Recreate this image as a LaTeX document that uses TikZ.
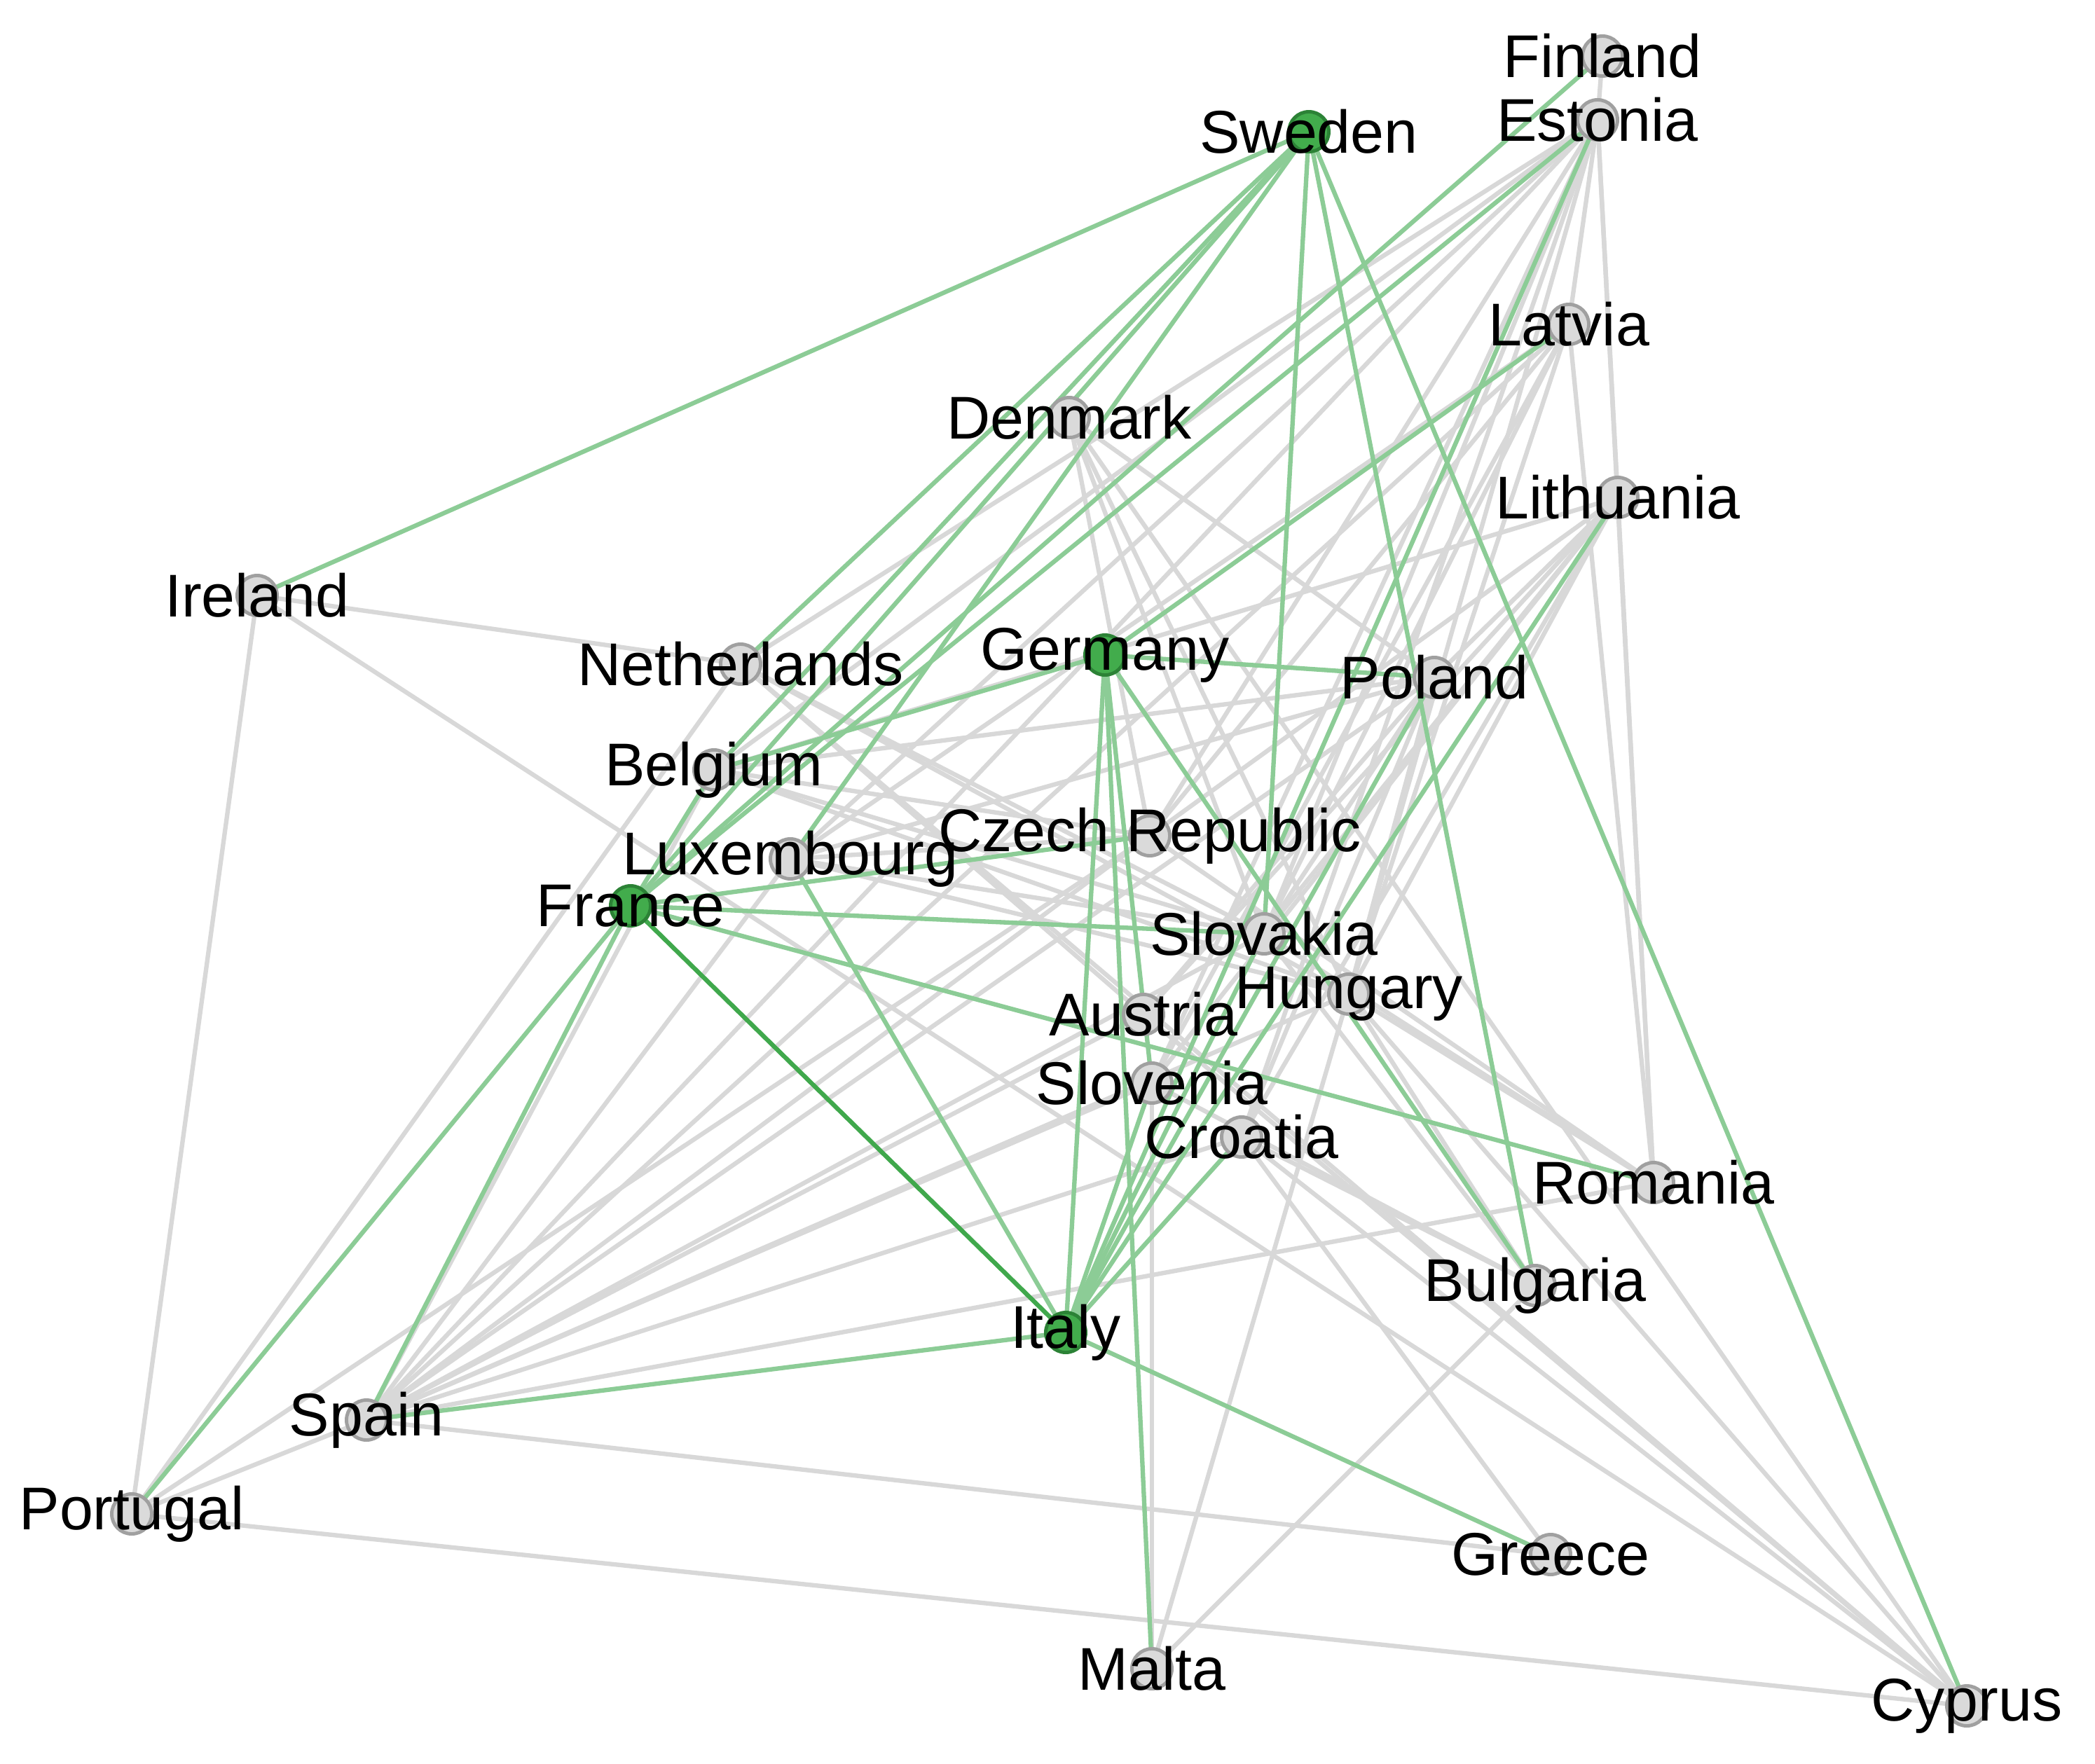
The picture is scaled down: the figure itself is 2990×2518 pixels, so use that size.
\documentclass[tikz,border=0pt]{standalone}
\usepackage{fontspec}
\setmainfont{Liberation Sans}
\definecolor{edgegray}{RGB}{216,216,216}
\definecolor{edgegreen}{RGB}{140,204,150}
\definecolor{edgedkgreen}{RGB}{64,168,76}
\definecolor{nodegray}{RGB}{218,218,218}
\definecolor{nodegraybd}{RGB}{160,160,160}
\definecolor{nodegreen}{RGB}{66,172,76}
\definecolor{nodegreenbd}{RGB}{44,130,54}
\begin{document}
\begin{tikzpicture}[x=0.01cm,y=-0.01cm,
  gedge/.style={draw=edgegray,line width=1.8pt},
  gredge/.style={draw=edgegreen,line width=1.8pt},
  dgredge/.style={draw=edgedkgreen,line width=1.8pt},
  nd/.style={circle,minimum size=0.57cm,inner sep=0pt,fill=nodegray,draw=nodegraybd,line width=1.4pt},
  gnd/.style={circle,minimum size=0.57cm,inner sep=0pt,fill=nodegreen,draw=nodegreenbd,line width=1.4pt},
  lbl/.style={font=\fontsize{24.5pt}{29pt}\selectfont,inner sep=0pt,text=black}]
\useasboundingbox (0,0) rectangle (2990,2518);
\fill[white] (0,0) rectangle (2990,2518);
% node coordinates
\coordinate (fi) at (2287,80);
\coordinate (es) at (2280,171);
\coordinate (se) at (1868,188);
\coordinate (la) at (2239,463);
\coordinate (de) at (1526,596);
\coordinate (li) at (2309,710);
\coordinate (ir) at (367,850);
\coordinate (ne) at (1057,948);
\coordinate (ge) at (1577,935);
\coordinate (po) at (2047,967);
\coordinate (be) at (1019,1099);
\coordinate (cz) at (1641,1193);
\coordinate (lu) at (1128,1226);
\coordinate (fr) at (900,1293);
\coordinate (sk) at (1804,1333);
\coordinate (hu) at (1925,1419);
\coordinate (au) at (1632,1448);
\coordinate (sn) at (1644,1546);
\coordinate (cr) at (1772,1623);
\coordinate (ro) at (2360,1688);
\coordinate (bu) at (2191,1835);
\coordinate (it) at (1521,1902);
\coordinate (sp) at (523,2027);
\coordinate (pt) at (188,2161);
\coordinate (gr) at (2213,2219);
\coordinate (ma) at (1644,2382);
\coordinate (cy) at (2807,2435);
% gray edges
\foreach \a/\b in {fi/es,es/la,es/li,es/ro,la/ro,li/ro,ir/ne,ir/pt,ir/cy,pt/sp,pt/ne,pt/cz,pt/cy,
  sp/gr,sp/ro,de/cy,de/po,de/cz,de/sk,de/hu,sp/cz,sp/au,sp/sn,sp/hu,sp/sk,sp/cr,sp/po,sp/be,sp/lu,
  ne/sk,ne/hu,ne/au,ne/cy,be/hu,be/sk,be/po,lu/sk,lu/hu,lu/po,lu/cz,be/cz,
  es/be,es/lu,es/ne,es/cz,es/sk,es/hu,es/sn,es/cr,es/sp,
  la/cz,la/lu,la/sk,la/hu,la/sn,la/sp,li/cz,li/be,li/sk,li/hu,li/au,li/cr,li/sn,li/po,
  po/sk,po/hu,po/au,po/cr,cz/ro,sk/ro,hu/ro,cr/cy,au/cy,cr/gr,cr/bu,hu/bu,sk/bu,sn/bu,
  ma/bu,ma/hu,ma/sn,hu/cy}
  {\draw[gedge] (\a) -- (\b);}
% green edges
\foreach \a/\b in {se/ir,se/ne,se/be,se/fr,se/lu,se/sk,se/bu,se/cy,
  ge/po,ge/ma,ge/bu,ge/be,ge/la,ge/it,ge/sn,
  fr/fi,fr/es,fr/cz,fr/sk,fr/ro,fr/sp,fr/pt,fr/be,
  it/sp,it/gr,it/lu,it/sn,it/cr,it/sk,it/po,it/es,it/li}
  {\draw[gredge] (\a) -- (\b);}
\draw[dgredge] (fr) -- (it);
% nodes
\foreach \n in {fi,es,la,de,li,ir,ne,po,be,cz,lu,sk,hu,au,sn,cr,ro,bu,sp,pt,gr,ma,cy}
  {\node[nd] (\n-n) at (\n) {};}
\foreach \n in {se,ge,fr,it}
  {\node[gnd] (\n-n) at (\n) {};}
% labels
\node[lbl] (fi-l) at (fi) {Finland};
\node[lbl] (es-l) at (es) {Estonia};
\node[lbl] (se-l) at (se) {Sweden};
\node[lbl] (la-l) at (la) {Latvia};
\node[lbl] (de-l) at (de) {Denmark};
\node[lbl] (li-l) at (li) {Lithuania};
\node[lbl] (ir-l) at (ir) {Ireland};
\node[lbl] (ne-l) at (ne) {Netherlands};
\node[lbl] (ge-l) at (ge) {Germany};
\node[lbl] (po-l) at (po) {Poland};
\node[lbl] (be-l) at (be) {Belgium};
\node[lbl] (cz-l) at (cz) {Czech Republic};
\node[lbl] (lu-l) at (lu) {Luxembourg};
\node[lbl] (fr-l) at (fr) {France};
\node[lbl] (sk-l) at (sk) {Slovakia};
\node[lbl] (hu-l) at (hu) {Hungary};
\node[lbl] (au-l) at (au) {Austria};
\node[lbl] (sn-l) at (sn) {Slovenia};
\node[lbl] (cr-l) at (cr) {Croatia};
\node[lbl] (ro-l) at (ro) {Romania};
\node[lbl] (bu-l) at (bu) {Bulgaria};
\node[lbl] (it-l) at (it) {Italy};
\node[lbl] (sp-l) at (sp) {Spain};
\node[lbl] (pt-l) at (pt) {Portugal};
\node[lbl] (gr-l) at (gr) {Greece};
\node[lbl] (ma-l) at (ma) {Malta};
\node[lbl] (cy-l) at (cy) {Cyprus};
\end{tikzpicture}
\end{document}
